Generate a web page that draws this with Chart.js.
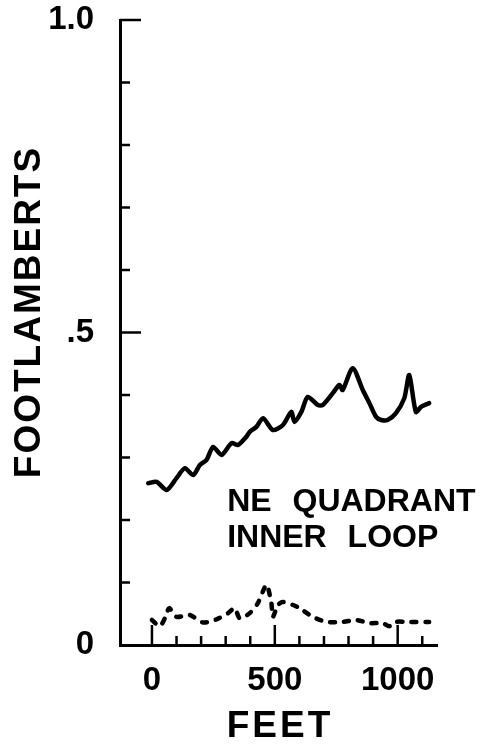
<!DOCTYPE html>
<html>
<head>
<meta charset="utf-8">
<script src="https://cdn.jsdelivr.net/npm/chart.js@4.4.0/dist/chart.umd.min.js"></script>
<style>
    body { margin: 0; background: #fff; }
    #wrap { width: 483px; height: 748px; }
</style>
</head>
<body>
<div id="wrap"><canvas id="lightChart"></canvas></div>
<script>

    // upper curve (solid)
    const solidFeet = [-15, 19, 60, 100, 134, 168, 195, 222, 249, 283, 324, 350, 384, 398, 425, 452, 492, 533, 567, 580,
        608, 634, 675, 695, 736, 763, 776, 817, 858, 885, 912, 933, 959, 993, 1027, 1047, 1074, 1095, 1128];
    const solidFL = [0.259, 0.261, 0.248, 0.267, 0.283, 0.272, 0.288, 0.296, 0.317, 0.304, 0.323, 0.320, 0.333, 0.341, 0.349, 0.363, 0.344, 0.352, 0.373, 0.357,
        0.373, 0.397, 0.384, 0.384, 0.403, 0.416, 0.408, 0.443, 0.408, 0.387, 0.365, 0.360, 0.360, 0.371, 0.395, 0.432, 0.373, 0.381, 0.387];

    // lower curve (dashed)
    const dashedFeet = [0, 32, 53, 70, 100, 154, 208, 263, 310, 337, 357, 398, 431, 466, 486, 492, 513, 533, 574, 601,
        655, 709, 777, 831, 885, 939, 966, 993, 1034, 1128];
    const dashedFL = [0.040, 0.030, 0.043, 0.059, 0.045, 0.048, 0.036, 0.041, 0.051, 0.059, 0.043, 0.051, 0.067, 0.096, 0.067, 0.045, 0.064, 0.069, 0.064, 0.059,
        0.045, 0.037, 0.037, 0.040, 0.035, 0.035, 0.030, 0.037, 0.037, 0.037];

    const xTickValues = [0, 100, 200, 300, 400, 500, 600, 700, 800, 900, 1000, 1100];
    const xTickLabels = ['0', '', '', '', '', '500', '', '', '', '', '1000', ''];
    const yTickValues = [0, 0.1, 0.2, 0.3, 0.4, 0.5, 0.6, 0.7, 0.8, 0.9, 1.0];
    const yTickLabels = ['0', '', '', '', '', '.5', '', '', '', '', '1.0'];

    const FONT = '"Liberation Sans", Arial, sans-serif';

    function points(xs, ys) {
        return xs.map((x, i) => ({x: x, y: ys[i]}));
    }

    // tick marks point into the plot, longer at the labelled ones
    const inwardTicks = {
        id: 'inwardTicks',
        afterDatasetsDraw(chart) {
            const {ctx, chartArea, scales} = chart;
            ctx.save();
            ctx.strokeStyle = '#000';
            ctx.lineWidth = 2.5;
            scales.x.ticks.forEach((t, i) => {
                const px = scales.x.getPixelForValue(t.value);
                const len = xTickLabels[i] ? 20 : 9;
                ctx.beginPath();
                ctx.moveTo(px, chartArea.bottom);
                ctx.lineTo(px, chartArea.bottom - len);
                ctx.stroke();
            });
            scales.y.ticks.forEach((t, i) => {
                if (i === 0) return;
                const py = scales.y.getPixelForValue(t.value);
                const len = yTickLabels[i] ? 21 : 10;
                ctx.beginPath();
                ctx.moveTo(chartArea.left, py);
                ctx.lineTo(chartArea.left + len, py);
                ctx.stroke();
            });
            ctx.restore();
        }
    };

    const lettering = {
        id: 'lettering',
        afterDraw(chart) {
            const {ctx, scales} = chart;
            ctx.save();
            ctx.fillStyle = '#000';

            // y title
            ctx.font = 'bold 37px ' + FONT;
            ctx.letterSpacing = '2px';
            ctx.textAlign = 'center';
            ctx.textBaseline = 'middle';
            ctx.translate(30, 312);
            ctx.rotate(-Math.PI / 2);
            ctx.fillText('FOOTLAMBERTS', 0, 0);
            ctx.setTransform(1, 0, 0, 1, 0, 0);

            // x title
            ctx.letterSpacing = '3px';
            ctx.fillText('FEET', 280, 727);

            // note inside the plot
            ctx.font = 'bold 32px ' + FONT;
            ctx.letterSpacing = '0px';
            ctx.wordSpacing = '12px';
            ctx.textAlign = 'left';
            ctx.textBaseline = 'alphabetic';
            const nx = scales.x.getPixelForValue(306);
            ctx.fillText('NE QUADRANT', nx, scales.y.getPixelForValue(0.2144));
            ctx.fillText('INNER LOOP', nx, scales.y.getPixelForValue(0.1568));
            ctx.restore();
        }
    };

    function noEdgePadding(scale) {
        scale.paddingTop = 0;
        scale.paddingBottom = 0;
        scale.paddingLeft = 0;
        scale.paddingRight = 0;
    }

    const ctx = document.getElementById('lightChart').getContext('2d');

    const lightChart = new Chart(ctx, {
        type: 'line',
        data: {
            datasets: [{
                label: 'upper',
                data: points(solidFeet, solidFL),
                borderColor: '#000',
                borderWidth: 4.5,
                tension: 0.25,
                pointRadius: 0,
                borderCapStyle: 'round',
                borderJoinStyle: 'round'
            },
                {
                    label: 'lower',
                    data: points(dashedFeet, dashedFL),
                    borderColor: '#000',
                    borderWidth: 4.5,
                    borderDash: [5, 9],
                    borderCapStyle: 'round',
                    tension: 0.25,
                    pointRadius: 0
                }]
        },
        options: {
            responsive: true,
            maintainAspectRatio: false,
            animation: false,
            layout: {
                autoPadding: false,
                padding: {left: 0, right: 46, top: 20, bottom: 0}
            },
            plugins: {
                legend: {display: false},
                tooltip: {enabled: false}
            },
            scales: {
                x: {
                    type: 'linear',
                    min: -130,
                    max: 1160,
                    afterFit: function (scale) {
                        scale.height = 103;
                        noEdgePadding(scale);
                    },
                    afterBuildTicks: function (scale) {
                        scale.ticks = xTickValues.map(v => ({value: v}));
                    },
                    grid: {display: false, drawTicks: false},
                    border: {display: true, color: '#000', width: 3},
                    ticks: {
                        autoSkip: false,
                        maxRotation: 0,
                        padding: 16,
                        color: '#000',
                        font: {family: FONT, size: 33, weight: 'bold'},
                        callback: function (value, index) {
                            return xTickLabels[index];
                        }
                    }
                },
                y: {
                    min: 0,
                    max: 1,
                    afterFit: function (scale) {
                        scale.width = 120;
                        noEdgePadding(scale);
                    },
                    afterBuildTicks: function (scale) {
                        scale.ticks = yTickValues.map(v => ({value: v}));
                    },
                    grid: {display: false, drawTicks: false},
                    border: {display: true, color: '#000', width: 3},
                    ticks: {
                        autoSkip: false,
                        padding: 26,
                        color: '#000',
                        font: {family: FONT, size: 33, weight: 'bold'},
                        callback: function (value, index) {
                            return yTickLabels[index];
                        }
                    }
                }
            }
        },
        plugins: [inwardTicks, lettering]
    });

</script>
</body>
</html>
